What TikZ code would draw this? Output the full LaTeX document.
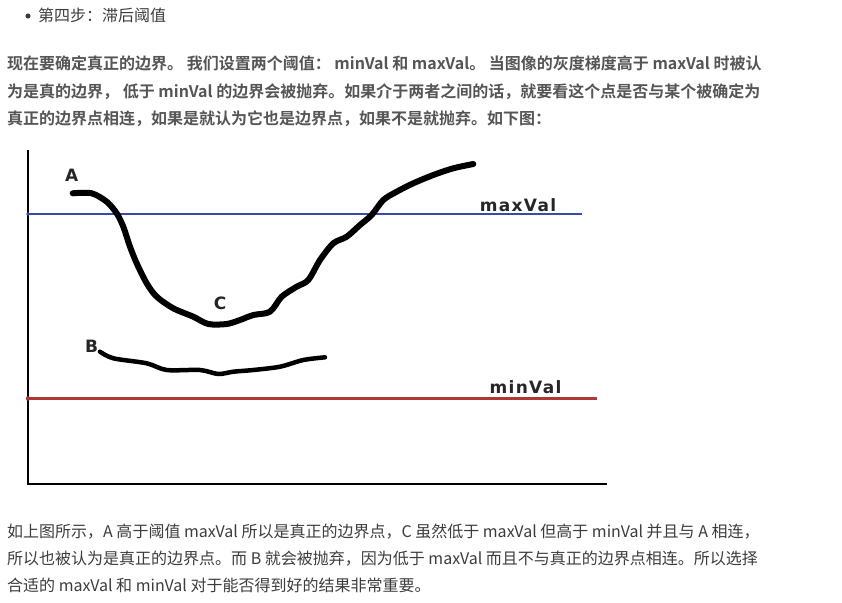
\documentclass[tikz,border=0pt]{standalone}
\usepackage{fontspec}
\newfontfamily\cjk[BoldFont={Noto Sans CJK SC Bold}]{Noto Sans CJK SC}
\newfontfamily\lbl[LetterSpace=8]{DejaVu Sans Bold}
\definecolor{tgray}{RGB}{60,60,60}
\definecolor{tbold}{RGB}{85,85,85}
\definecolor{maxblue}{RGB}{55,75,175}
\definecolor{minred}{RGB}{175,55,55}
\tikzset{page/.style={x=1pt,y=-1pt}}
\tikzset{txt/.style={anchor=base west,inner sep=0pt,text=tgray,font=\cjk\fontsize{16}{16}\selectfont},
         btxt/.style={txt,text=tbold,font=\cjk\bfseries\fontsize{16}{16}\selectfont},
         lab/.style={inner sep=0pt,text=black!85,font=\lbl\fontsize{17}{17}\selectfont},
         axis/.style={black,line width=2pt},
         edge/.style={black,line width=6pt,line cap=round,line join=round}}

\begin{document}
\begin{tikzpicture}[page]
    \useasboundingbox (0,0) rectangle (842,602);
    % heading
    \fill[tgray] (28,16) circle (2.6);
    \node[txt] (head) at (38,22) {第四步：滞后阈值};
    \node[btxt] (p1) at (7,69.5) {现在要确定真正的边界。 我们设置两个阈值： minVal 和 maxVal。 当图像的灰度梯度高于 maxVal 时被认};
    \node[btxt] (p2) at (7,97.5) {为是真的边界， 低于 minVal 的边界会被抛弃。如果介于两者之间的话，就要看这个点是否与某个被确定为};
    \node[btxt] (p3) at (7,124.5) {真正的边界点相连，如果是就认为它也是边界点，如果不是就抛弃。如下图：};
    % the plot
    \draw[axis] (28,150) -- (28,485);
    \draw[axis] (27,484) -- (607,484);
    \draw[maxblue,line width=2pt] (28,214) -- (582,214);
    \draw[minred,line width=2.4pt] (28,398.5) -- (597,398.5);
    \fill[minred] (28,398.5) circle (2.2);
    \fill[maxblue] (28,214) circle (1.8);
    \draw[edge] plot[smooth,tension=0.5] coordinates {(72.7,193.3) (91.7,193.3) (106.7,201.7)
        (116.7,213.3) (123.3,226.7) (130,246.7) (136.7,263.3) (146.7,283.3) (156.7,296.7)
        (173.3,308.3) (193.3,316.7) (208.3,324) (226.7,324) (240,320) (253.3,315) (270,311.7)
        (281.7,296.7) (296.7,286.7) (308.3,280) (320,260) (333.3,243.3) (346.7,236.7) (360,225)
        (371.7,215) (383.3,200) (396.7,191.7) (413.3,183.3) (433.3,175) (453.3,168.3) (473.3,164)};
    \draw[edge,line width=4.5pt] plot[smooth,tension=0.5] coordinates {(100,351.7) (113.3,358.3)
        (146.7,363.3) (166.7,370) (200,370) (218.3,374) (233.3,371.7) (253.3,370) (280,366.7)
        (303.3,360) (325,357.3)};
    \node[lab] (la) at (71.7,175) {A};
    \node[lab] (lc) at (220,303) {C};
    \node[lab] (lb) at (91.7,346.7) {B};
    \node[lab] (lmax) at (518,205) {maxVal};
    \node[lab] (lmin) at (525.5,386.7) {minVal};
    % below the plot
    \node[txt] (q1) at (7,537.7) {如上图所示，A 高于阈值 maxVal 所以是真正的边界点，C 虽然低于 maxVal 但高于 minVal 并且与 A 相连，};
    \node[txt] (q2) at (7,564.5) {所以也被认为是真正的边界点。而 B 就会被抛弃，因为低于 maxVal 而且不与真正的边界点相连。所以选择};
    \node[txt] (q3) at (7,591) {合适的 maxVal 和 minVal 对于能否得到好的结果非常重要。};
\end{tikzpicture}
\end{document}
